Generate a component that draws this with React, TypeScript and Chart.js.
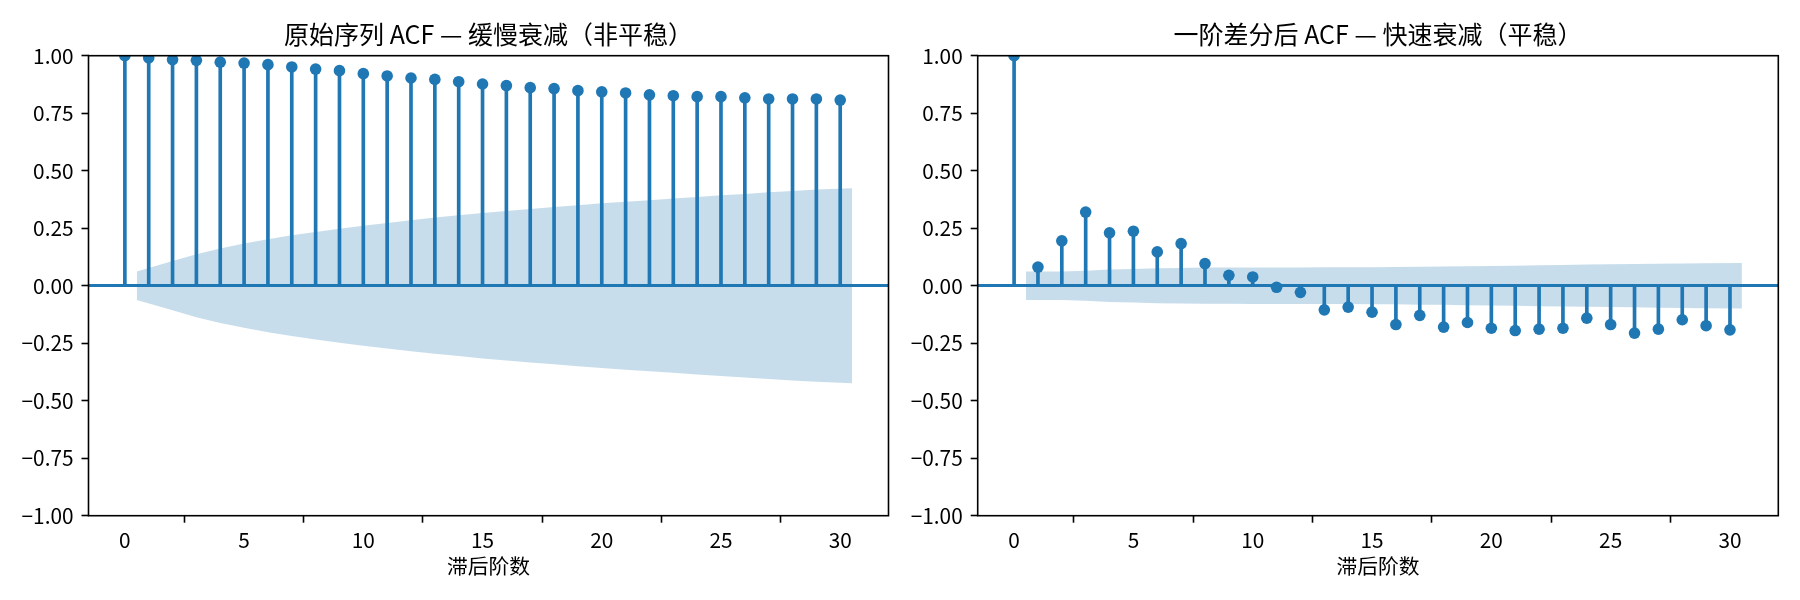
import { useEffect, useRef } from "react";
import { Chart, registerables } from "chart.js";

Chart.register(...registerables);

// lags 0..30
const lags = [0, 1, 2, 3, 4, 5, 6, 7, 8, 9, 10, 11, 12, 13, 14, 15, 16, 17, 18, 19, 20, 21, 22, 23, 24, 25, 26, 27, 28, 29, 30];

const acfOriginal = [
  1.0, 0.99, 0.983, 0.98, 0.972, 0.968, 0.961, 0.951, 0.942, 0.935, 0.922, 0.912, 0.903, 0.897, 0.887, 0.877,
  0.87, 0.861, 0.857, 0.848, 0.843, 0.838, 0.83, 0.826, 0.822, 0.822, 0.817, 0.812, 0.812, 0.812, 0.807,
];
// 95% band half-width, lags 1..30
const confOriginal = [
  0.062, 0.107, 0.137, 0.162, 0.183, 0.202, 0.219, 0.234, 0.248, 0.261, 0.273, 0.285, 0.296, 0.306, 0.316,
  0.325, 0.334, 0.342, 0.35, 0.358, 0.365, 0.372, 0.379, 0.386, 0.393, 0.399, 0.406, 0.412, 0.418, 0.424,
];

const acfDiff = [
  1.0, 0.081, 0.195, 0.32, 0.23, 0.237, 0.147, 0.183, 0.096, 0.045, 0.038, -0.007, -0.029, -0.105, -0.093,
  -0.115, -0.169, -0.129, -0.18, -0.16, -0.185, -0.195, -0.189, -0.185, -0.141, -0.169, -0.206, -0.189,
  -0.148, -0.174, -0.192,
];
const confDiff = [
  0.062, 0.062, 0.065, 0.0705, 0.073, 0.076, 0.077, 0.079, 0.079, 0.0795, 0.0795, 0.0795, 0.08, 0.08, 0.0805,
  0.081, 0.0825, 0.083, 0.085, 0.086, 0.087, 0.089, 0.0905, 0.092, 0.093, 0.094, 0.0955, 0.097, 0.098, 0.099,
];

const xTicks = [0, 5, 10, 15, 20, 25, 30];
const yTicks = [-1, -0.75, -0.5, -0.25, 0, 0.25, 0.5, 0.75, 1];

const BLUE = "#1f77b4";
const BAND = "rgba(31,119,180,0.25)";
const FONT = "'Liberation Sans Narrow', 'Noto Sans CJK SC', sans-serif";

const framePlugin = {
  id: "frame",
  afterDraw(chart: any, _args: any, opts: any) {
    const { ctx, chartArea: a } = chart;
    ctx.save();
    ctx.strokeStyle = "#000";
    ctx.lineWidth = 1.6;
    ctx.strokeRect(a.left, a.top, a.right - a.left, a.bottom - a.top);
    ctx.fillStyle = "#000";
    ctx.textAlign = "center";
    ctx.textBaseline = "middle";
    ctx.font = `25px ${FONT}`;
    ctx.fillText(opts.title, (a.left + a.right) / 2, a.top - 21);
    ctx.font = `20.8px ${FONT}`;
    ctx.fillText(opts.xlabel, (a.left + a.right) / 2, a.bottom + 50);
    ctx.restore();
  },
};

function AcfPlot({
  title,
  acf,
  conf,
  axisWidth,
  padRight,
}: {
  title: string;
  acf: number[];
  conf: number[];
  axisWidth: number;
  padRight: number;
}) {
  const canvasRef = useRef<HTMLCanvasElement | null>(null);

  useEffect(() => {
    if (!canvasRef.current) return;

    // band follows statsmodels: first and last lag pushed out by half a step
    const bandLags = lags.slice(1).map((l, i, arr) => (i === 0 ? l - 0.5 : i === arr.length - 1 ? l + 0.5 : l));

    const chart = new Chart(canvasRef.current, {
      type: "bar",
      data: {
        datasets: [
          {
            type: "line",
            data: lags.map((l, i) => ({ x: l, y: acf[i] })),
            showLine: false,
            pointRadius: 5.8,
            pointBackgroundColor: BLUE,
            pointBorderWidth: 0,
            clip: 0,
          } as any,
          {
            type: "bar",
            data: lags.map((l, i) => ({ x: l, y: acf[i] })),
            backgroundColor: BLUE,
            barThickness: 3,
            borderWidth: 0,
            grouped: false,
          },
          {
            type: "line",
            data: bandLags.map((l, i) => ({ x: l, y: conf[i] })),
            fill: "+1",
            backgroundColor: BAND,
            borderColor: "transparent",
            borderWidth: 0,
            pointRadius: 0,
            tension: 0,
          },
          {
            type: "line",
            data: bandLags.map((l, i) => ({ x: l, y: -conf[i] })),
            fill: false,
            borderColor: "transparent",
            borderWidth: 0,
            pointRadius: 0,
            tension: 0,
          },
        ],
      },
      options: {
        animation: false,
        responsive: false,
        events: [],
        layout: { padding: { left: 0, right: padRight, top: 55.7, bottom: 0 } },
        plugins: {
          legend: { display: false },
          tooltip: { enabled: false },
          frame: { title, xlabel: "滞后阶数" },
        } as any,
        scales: {
          x: {
            type: "linear",
            min: -1.525,
            max: 32.025,
            offset: false,
            afterBuildTicks: (s: any) => {
              s.ticks = xTicks.map((v) => ({ value: v }));
            },
            afterFit: (s: any) => {
              s.height = 84.3;
            },
            ticks: {
              autoSkip: false,
              maxRotation: 0,
              padding: 5,
              color: "#000",
              font: { family: FONT, size: 20.8 },
              callback: (v: any) => String(v),
            },
            grid: {
              drawOnChartArea: false,
              color: "transparent",
              tickColor: "#000",
              tickWidth: 1.6,
              tickLength: 7,
            },
            border: { display: false },
          },
          y: {
            type: "linear",
            min: -1,
            max: 1,
            afterBuildTicks: (s: any) => {
              s.ticks = yTicks.map((v) => ({ value: v }));
            },
            afterFit: (s: any) => {
              s.width = axisWidth;
            },
            ticks: {
              autoSkip: false,
              padding: 8,
              color: "#000",
              font: { family: FONT, size: 20.8 },
              callback: (v: any) => (Number(v) < 0 ? "\u2212" : "") + Math.abs(Number(v)).toFixed(2),
            },
            grid: {
              color: (c: any) => (c.tick && c.tick.value === 0 ? BLUE : "transparent"),
              lineWidth: (c: any) => (c.tick && c.tick.value === 0 ? 3 : 1),
              tickColor: "#000",
              tickWidth: 1.6,
              tickLength: 7,
            },
            border: { display: false },
          },
        },
      } as any,
      plugins: [framePlugin],
    });

    return () => {
      chart.destroy();
    };
  }, [title, acf, conf, axisWidth, padRight]);

  return <canvas ref={canvasRef} width={900} height={600} style={{ width: 900, height: 600, display: "block" }} />;
}

export default function App() {
  return (
    <div style={{ position: "absolute", left: 0, top: 0, width: 1800, height: 600, background: "#fff", display: "flex" }}>
      <AcfPlot title="原始序列 ACF — 缓慢衰减（非平稳）" acf={acfOriginal} conf={confOriginal} axisWidth={88.5} padRight={11.5} />
      <AcfPlot title="一阶差分后 ACF — 快速衰减（平稳）" acf={acfDiff} conf={confDiff} axisWidth={77.7} padRight={21.7} />
    </div>
  );
}
